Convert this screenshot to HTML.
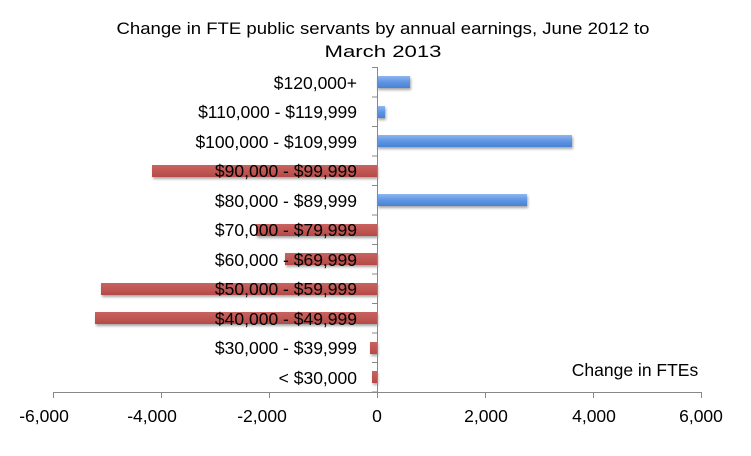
<!DOCTYPE html>
<html><head><meta charset="utf-8"><style>
body{margin:0;background:#fff}
svg text{font-family:"Liberation Sans","DejaVu Sans",sans-serif;fill:#000}
</style></head><body>
<svg width="751" height="451" xmlns="http://www.w3.org/2000/svg">
<defs>
<linearGradient id="b" x1="0" y1="0" x2="0" y2="1"><stop offset="0" stop-color="#8fb6ee"/><stop offset="0.5" stop-color="#5f95e3"/><stop offset="1" stop-color="#4a82d4"/></linearGradient>
<linearGradient id="r" x1="0" y1="0" x2="0" y2="1"><stop offset="0" stop-color="#c96360"/><stop offset="1" stop-color="#b54a47"/></linearGradient>
<filter id="s" x="-5%" y="-30%" width="110%" height="180%"><feDropShadow dx="1" dy="2" stdDeviation="1.2" flood-color="#000" flood-opacity="0.35"/></filter>
</defs>
<text x="383" y="34" font-size="17" text-anchor="middle" textLength="533" lengthAdjust="spacingAndGlyphs">Change in FTE public servants by annual earnings, June 2012 to</text>
<text x="383" y="57" font-size="17" text-anchor="middle" textLength="117" lengthAdjust="spacingAndGlyphs">March 2013</text>
<g filter="url(#s)">
<rect x="377" y="76" width="33" height="12" fill="url(#b)"/>
<rect x="377" y="106" width="8" height="12" fill="url(#b)"/>
<rect x="377" y="135" width="195" height="12" fill="url(#b)"/>
<rect x="152" y="165" width="225" height="12" fill="url(#r)"/>
<rect x="377" y="194" width="150" height="12" fill="url(#b)"/>
<rect x="256" y="224" width="121" height="12" fill="url(#r)"/>
<rect x="285" y="253" width="92" height="12" fill="url(#r)"/>
<rect x="101" y="283" width="276" height="12" fill="url(#r)"/>
<rect x="95" y="312" width="282" height="12" fill="url(#r)"/>
<rect x="370" y="342" width="7" height="12" fill="url(#r)"/>
<rect x="372" y="371" width="5" height="12" fill="url(#r)"/>
</g>
<g stroke="#888" stroke-width="1">
<line x1="377.5" y1="67" x2="377.5" y2="392"/>
<line x1="53" y1="392.5" x2="701" y2="392.5"/>
<path d="M372 67.5h5M372 97h5M372 126.5h5M372 156h5M372 185.5h5M372 215h5M372 244.5h5M372 274h5M372 303.5h5M372 333h5M372 362.5h5M372 392h5"/>
<path d="M53.5 392v6M161.5 392v6M269.5 392v6M377.5 392v6M485.5 392v6M593.5 392v6M701.5 392v6"/>
</g>
<g font-size="17.5" text-anchor="end">
<text x="357" y="89">$120,000+</text>
<text x="357" y="118">$110,000 - $119,999</text>
<text x="357" y="148">$100,000 - $109,999</text>
<text x="357" y="177">$90,000 - $99,999</text>
<text x="357" y="207">$80,000 - $89,999</text>
<text x="357" y="236">$70,000 - $79,999</text>
<text x="357" y="266">$60,000 - $69,999</text>
<text x="357" y="295">$50,000 - $59,999</text>
<text x="357" y="325">$40,000 - $49,999</text>
<text x="357" y="354">$30,000 - $39,999</text>
<text x="357" y="384">&lt; $30,000</text>
</g>
<g font-size="17.5" text-anchor="middle">
<text x="44" y="422">-6,000</text>
<text x="152" y="422">-4,000</text>
<text x="262" y="422">-2,000</text>
<text x="377" y="422">0</text>
<text x="486" y="422">2,000</text>
<text x="594" y="422">4,000</text>
<text x="701" y="422">6,000</text>
</g>
<text x="635" y="376" font-size="17.5" text-anchor="middle">Change in FTEs</text>
</svg>
</body></html>
